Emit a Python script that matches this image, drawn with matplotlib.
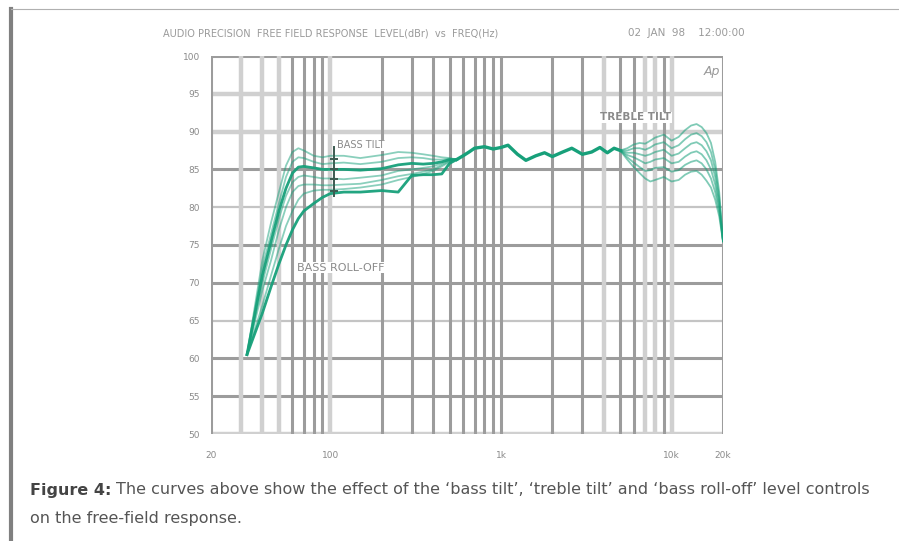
import numpy as np
import matplotlib.pyplot as plt
from matplotlib.lines import Line2D

# ---------------- data ----------------
bass_freq = [32.5, 40, 45, 50, 55, 60, 65, 70, 80, 90, 100, 120, 150, 200,
             250, 300, 350, 400, 450, 500]

bass_1 = [60.5, 73.0, 78.0, 82.0, 85.5, 87.3, 87.8, 87.5, 86.8, 86.6, 86.8,
          86.8, 86.5, 86.9, 87.3, 87.2, 87.0, 86.8, 86.6, 86.5]
bass_2 = [60.5, 72.0, 76.5, 80.5, 84.0, 86.0, 86.6, 86.5, 86.0, 85.7, 85.8,
          85.9, 85.7, 86.0, 86.5, 86.6, 86.5, 86.3, 86.3, 86.4]
bass_3 = [60.5, 71.0, 75.5, 79.5, 82.5, 84.5, 85.3, 85.4, 85.2, 85.0, 85.0,
          85.0, 84.9, 85.1, 85.6, 85.8, 85.7, 85.8, 86.0, 86.3]
bass_4 = [60.5, 70.0, 74.5, 78.5, 81.5, 83.3, 84.0, 84.2, 84.0, 83.8, 83.8,
          83.7, 83.9, 84.2, 84.8, 85.0, 85.2, 85.4, 85.8, 86.2]
bass_5 = [60.5, 69.0, 73.0, 77.0, 80.0, 82.0, 82.8, 83.0, 83.0, 82.9, 82.9,
          83.0, 83.1, 83.6, 84.1, 84.4, 84.7, 85.0, 85.6, 86.1]
bass_6 = [60.5, 67.0, 71.0, 74.5, 77.5, 79.5, 81.0, 81.8, 82.2, 82.3, 82.3,
          82.4, 82.6, 83.0, 83.6, 84.0, 84.4, 84.8, 85.4, 86.0]
bass_7 = [60.5, 66.0, 69.5, 72.5, 75.0, 77.0, 78.5, 79.5, 80.5, 81.3, 81.8,
          82.0, 82.0, 82.2, 82.0, 84.2, 84.3, 84.3, 84.4, 85.8]

mid_freq = [550, 600, 650, 700, 800, 900, 1000, 1100, 1250, 1400, 1600, 1800,
            2000, 2300, 2600, 3000, 3400, 3800, 4200, 4600, 5000]
mid_db = [86.3, 86.8, 87.3, 87.8, 88.0, 87.7, 87.9, 88.2, 87.0, 86.2, 86.8,
          87.2, 86.7, 87.3, 87.8, 87.0, 87.3, 87.9, 87.2, 87.8, 87.5]

treble_freq = [5000, 5500, 6000, 6500, 7000, 7500, 8000, 9000, 10000, 11000,
               12000, 13000, 14000, 15000, 16000, 17000, 18000, 19000, 20000]
treble_1 = [87.5, 87.8, 88.3, 88.5, 88.4, 88.8, 89.2, 89.6, 88.8, 89.3, 90.2,
            90.8, 91.0, 90.6, 89.8, 88.5, 86.0, 82.0, 75.5]
treble_2 = [87.5, 87.5, 87.8, 87.8, 87.6, 87.9, 88.3, 88.6, 87.8, 88.2, 89.0,
            89.6, 89.8, 89.4, 88.6, 87.3, 85.0, 81.3, 75.5]
treble_3 = [87.5, 87.2, 87.2, 87.0, 86.8, 87.0, 87.3, 87.6, 86.8, 87.1, 87.8,
            88.4, 88.6, 88.2, 87.4, 86.2, 84.0, 80.6, 75.5]
treble_4 = [87.5, 86.9, 86.6, 86.2, 85.8, 86.0, 86.3, 86.5, 85.8, 86.0, 86.7,
            87.2, 87.4, 87.0, 86.2, 85.0, 83.0, 80.0, 75.5]
treble_5 = [87.5, 86.6, 85.9, 85.3, 84.8, 84.9, 85.2, 85.3, 84.7, 84.9, 85.6,
            86.0, 86.2, 85.8, 85.0, 83.8, 82.0, 79.4, 75.5]
treble_6 = [87.5, 86.3, 85.3, 84.5, 83.8, 83.4, 83.6, 84.0, 83.4, 83.6, 84.3,
            84.7, 84.8, 84.3, 83.5, 82.6, 81.0, 78.8, 75.5]

bass_curves = [bass_1, bass_2, bass_3, bass_4, bass_5, bass_6, bass_7]
treble_curves = [treble_1, treble_2, treble_3, treble_4, treble_5, treble_6]

y_ticks = [100, 95, 90, 85, 80, 75, 70, 65, 60, 55, 50]
x_ticks = [20, 100, 1000, 10000, 20000]
x_labels = ["20", "100", "1k", "10k", "20k"]

# gridline look of the scan: light thick bands and darker lines
h_light = [95, 90, 50]
h_thin = [80, 65]
h_dark = [100, 85, 75, 70, 60, 55]
v_light = [30, 40, 50, 100, 4000, 7000, 8000, 10000]
v_dark = [20, 60, 70, 80, 90, 200, 300, 400, 500, 600, 700, 800, 900, 1000,
          2000, 3000, 5000, 6000, 9000, 20000]

GREEN = "#17a07a"
LIGHT = "#d0d0d0"
DARK = "#9c9c9c"
TXT = "#8a8a8a"

# ---------------- figure ----------------
fig = plt.figure(figsize=(8.99, 5.41), dpi=100)
ax = fig.add_axes([211 / 899, 107 / 541, 512 / 899, 378 / 541])
ax.set_xscale("log")
ax.set_xlim(20, 20000)
ax.set_ylim(50, 100)

for v in h_light:
    ax.axhline(v, color=LIGHT, lw=3.2, zorder=1)
for v in h_thin:
    ax.axhline(v, color="#c4c4c4", lw=1.6, zorder=1)
for v in h_dark:
    ax.axhline(v, color=DARK, lw=2.2, zorder=1)
for v in v_light:
    ax.axvline(v, color=LIGHT, lw=3.2, zorder=1)
for v in v_dark:
    ax.axvline(v, color=DARK, lw=2.2, zorder=1)

# bass tilt / roll-off family
for i, c in enumerate(bass_curves):
    xs = bass_freq + [mid_freq[0]]
    ys = c + [mid_db[0]]
    if i in (2, 6):
        ax.plot(xs, ys, color=GREEN, lw=2.0, alpha=0.95, zorder=3)
    else:
        ax.plot(xs, ys, color=GREEN, lw=1.3, alpha=0.5, zorder=3)

# shared midband
ax.plot(mid_freq, mid_db, color=GREEN, lw=2.4, zorder=4)

# treble tilt family
for i, c in enumerate(treble_curves):
    ax.plot(treble_freq, c, color=GREEN, lw=1.3, alpha=0.55, zorder=3)

# bass tilt marker
ax.plot([105, 105], [81.5, 88.0], color="#3c5a50", lw=1.4, zorder=5)
ax.plot([105] * 4, [82.2, 83.7, 85.0, 86.4], ls="none", marker="_",
        ms=6, mew=1.4, color="#3c5a50", zorder=5)

box = dict(facecolor="white", edgecolor="none", pad=0.5)
ax.text(110, 88.2, "BASS TILT", fontsize=7, color=TXT, va="center",
        bbox=box, zorder=6)
ax.text(3800, 91.9, "TREBLE TILT", fontsize=7.5, color=TXT, va="center",
        fontweight="bold", bbox=box, zorder=6)
ax.text(64, 72.0, "BASS ROLL-OFF", fontsize=8, color=TXT, va="center",
        bbox=box, zorder=6)
ax.text(15500, 97.9, "Ap", fontsize=9, color="#999999", style="italic",
        va="center", zorder=6)

ax.set_yticks(y_ticks)
ax.set_yticklabels([str(v) for v in y_ticks])
ax.set_xticks(x_ticks)
ax.set_xticklabels(x_labels)
ax.xaxis.set_minor_locator(plt.NullLocator())
ax.tick_params(length=0, labelsize=6.5, labelcolor=TXT)
ax.tick_params(axis="y", pad=8)
ax.tick_params(axis="x", pad=12)
for s in ax.spines.values():
    s.set_visible(False)

# header line of the analyser print-out
fig.text(163 / 899, 1 - 33 / 541,
         "AUDIO PRECISION  FREE FIELD RESPONSE  LEVEL(dBr)  vs  FREQ(Hz)",
         fontsize=7, color="#9a9a9a", va="center")
fig.text(745 / 899, 1 - 33 / 541, "02  JAN  98    12:00:00", fontsize=7.5,
         color="#9a9a9a", va="center", ha="right")

# page border
fig.add_artist(Line2D([11 / 899, 11 / 899], [0, 1 - 9 / 541],
                      color="#808080", lw=3, transform=fig.transFigure))
fig.add_artist(Line2D([11 / 899, 1], [1 - 9 / 541, 1 - 9 / 541],
                      color="#b0b0b0", lw=0.8, transform=fig.transFigure))

# caption
cap = fig.text(30 / 899, 1 - 490 / 541, "Figure 4:", fontsize=11.5,
               fontweight="bold", color="#444444", va="center")
fig.canvas.draw()
bb = cap.get_window_extent()
fig.text((bb.x1 + 5) / 899, 1 - 490 / 541,
         "The curves above show the effect of the \u2018bass tilt\u2019, "
         "\u2018treble tilt\u2019 and \u2018bass roll-off\u2019 level controls",
         fontsize=11.5, color="#555555", va="center")
fig.text(30 / 899, 1 - 519 / 541, "on the free-field response.",
         fontsize=11.5, color="#555555", va="center")

fig.savefig("out.png", dpi=100)
